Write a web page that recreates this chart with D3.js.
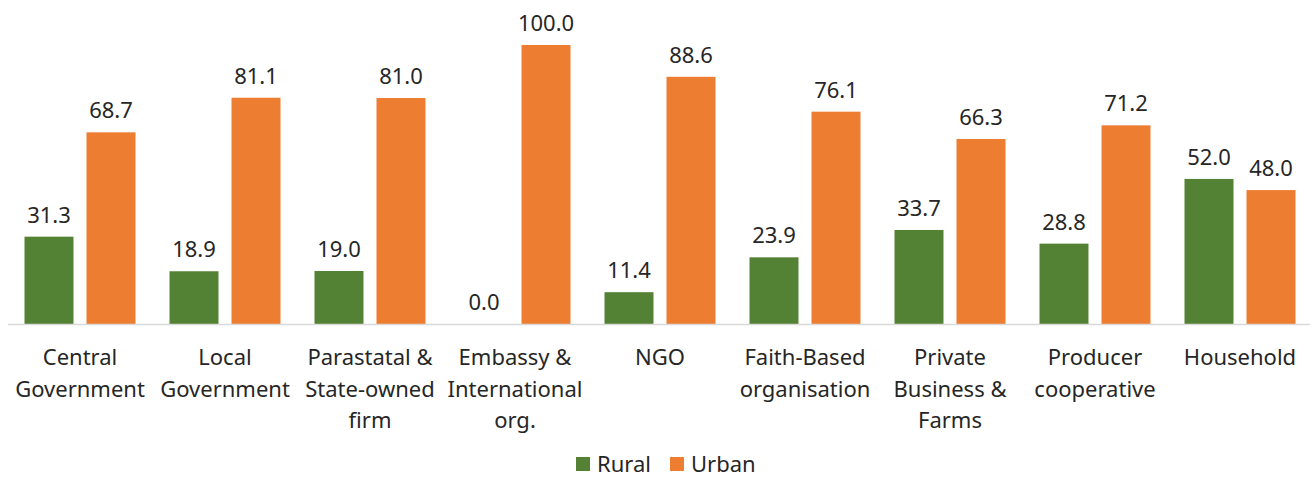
<!DOCTYPE html>
<html>
<head>
<meta charset="utf-8">
<script src="https://cdn.jsdelivr.net/npm/d3@7"></script>
<style>
  body { margin: 0; background: #fff; }
  text { font-family: "Noto Sans", sans-serif; fill: #262626; }
</style>
</head>
<body>
<div id="chart"></div>
<script>
// data
var categories = [
    ["Central", "Government"],
    ["Local", "Government"],
    ["Parastatal &", "State-owned", "firm"],
    ["Embassy &", "International", "org."],
    ["NGO"],
    ["Faith-Based", "organisation"],
    ["Private", "Business &", "Farms"],
    ["Producer", "cooperative"],
    ["Household"]
];
var rural = [31.3, 18.9, 19.0, 0.0, 11.4, 23.9, 33.7, 28.8, 52.0];
var urban = [68.7, 81.1, 81.0, 100.0, 88.6, 76.1, 66.3, 71.2, 48.0];
var seriesNames = ["Rural", "Urban"];
var colors = {"Rural": "#548235", "Urban": "#ED7D31"};

var width = 1316, height = 477;

var svg = d3.select("#chart")
    .append("svg")
    .attr("width", width)
    .attr("height", height);

var xScale = d3.scaleBand()
    .domain(d3.range(categories.length))
    .range([7.5, 1312.5])
    .padding(0);

var step = xScale.bandwidth();
var inner = d3.scaleBand()
    .domain(seriesNames)
    .range([17, step - 17])
    .paddingInner(0.21)
    .paddingOuter(0);

var yScale = d3.scaleLinear()
    .domain([0, 100])
    .range([324, 45]);

var rows = categories.map(function(c, i) {
    return {i: i, Rural: rural[i], Urban: urban[i]};
});

var groups = svg.selectAll("g.cat")
    .data(rows)
    .enter()
    .append("g")
    .attr("class", "cat")
    .attr("transform", function(d) { return "translate(" + xScale(d.i) + ",0)"; });

groups.selectAll("rect")
    .data(function(d) { return seriesNames.map(function(s) { return {s: s, v: d[s]}; }); })
    .enter()
    .append("rect")
    .attr("x", function(d) { return inner(d.s); })
    .attr("y", function(d) { return yScale(d.v); })
    .attr("width", inner.bandwidth())
    .attr("height", function(d) { return yScale(0) - yScale(d.v); })
    .attr("fill", function(d) { return colors[d.s]; });

groups.selectAll("text.val")
    .data(function(d) { return seriesNames.map(function(s) { return {s: s, v: d[s]}; }); })
    .enter()
    .append("text")
    .attr("class", "val")
    .attr("x", function(d) { return inner(d.s) + inner.bandwidth() / 2; })
    .attr("y", function(d) { return yScale(d.v) - 14; })
    .attr("text-anchor", "middle")
    .style("font-size", "22px")
    .text(function(d) { return d.v.toFixed(1); });

// baseline
svg.append("line")
    .attr("x1", 8).attr("x2", 1310)
    .attr("y1", yScale(0) + 0.5).attr("y2", yScale(0) + 0.5)
    .attr("stroke", "#d9d9d9")
    .attr("stroke-width", 1.5);

// category labels
var xAxis = svg.append("g");
categories.forEach(function(lines, i) {
    var t = xAxis.append("text")
        .attr("text-anchor", "middle")
        .style("font-size", "22px");
    lines.forEach(function(l, j) {
        t.append("tspan")
            .attr("x", xScale(i) + step / 2)
            .attr("y", 365 + j * 31.5)
            .text(l);
    });
});

// legend
var legend = svg.append("g");
var legendX = [576, 670];
seriesNames.forEach(function(s, i) {
    legend.append("rect")
        .attr("x", legendX[i]).attr("y", 457)
        .attr("width", 14).attr("height", 14)
        .attr("fill", colors[s]);
    legend.append("text")
        .attr("x", legendX[i] + 21)
        .attr("y", 472)
        .style("font-size", "22px")
        .text(s);
});
</script>
</body>
</html>
